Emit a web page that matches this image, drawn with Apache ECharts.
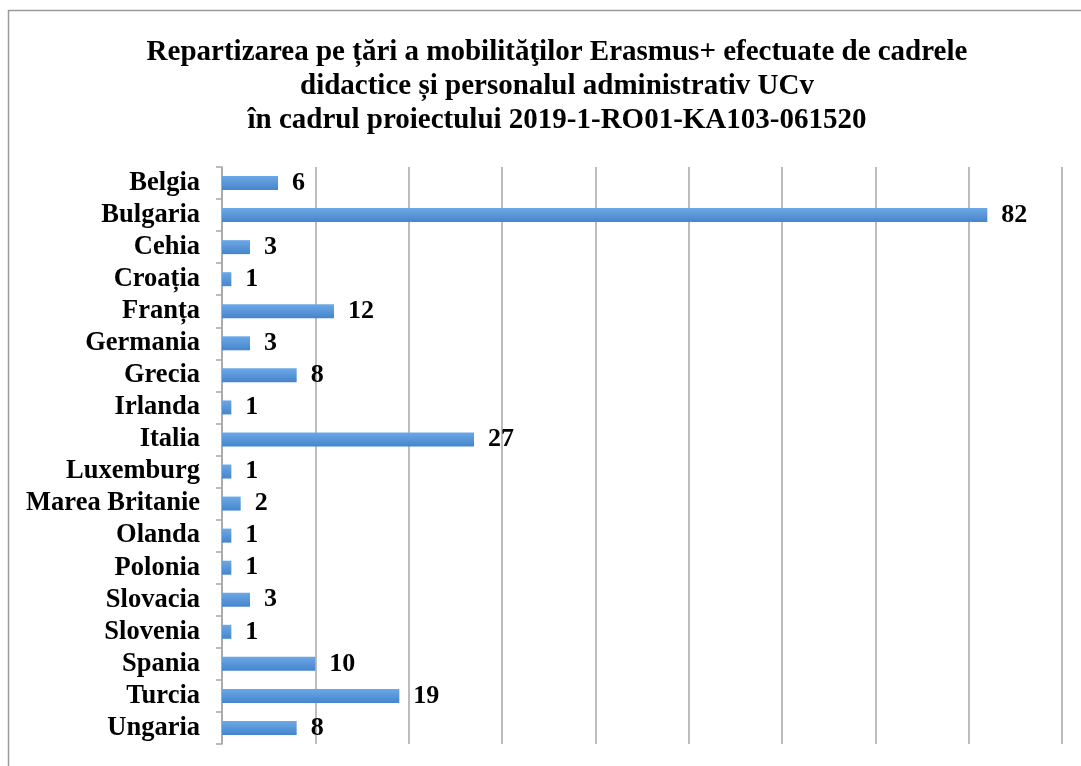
<!DOCTYPE html>
<html>
<head>
<meta charset="utf-8">
<title>Repartizarea pe țări a mobilităţilor Erasmus+</title>
<script src="https://cdn.jsdelivr.net/npm/echarts@6/dist/echarts.min.js"></script>
<style>
  html, body { margin: 0; padding: 0; background: #fff; }
  #chart { width: 1081px; height: 766px; }
</style>
</head>
<body>
<div id="chart"></div>
<script>
// date
const countries = ['Belgia', 'Bulgaria', 'Cehia', 'Croația', 'Franța', 'Germania', 'Grecia', 'Irlanda',
  'Italia', 'Luxemburg', 'Marea Britanie', 'Olanda', 'Polonia', 'Slovacia', 'Slovenia', 'Spania',
  'Turcia', 'Ungaria']
const mobilities = [6, 82, 3, 1, 12, 3, 8, 1, 27, 1, 2, 1, 1, 3, 1, 10, 19, 8]
const titleLines = [
  'Repartizarea pe țări a mobilităţilor Erasmus+ efectuate de cadrele',
  'didactice și personalul administrativ UCv',
  'în cadrul proiectului 2019-1-RO01-KA103-061520'
]

const serif = '"Liberation Serif", "Times New Roman", serif'
const gridColor = '#a6a6a6'

const chart = echarts.init(document.getElementById('chart'), null, { renderer: 'canvas' })

chart.setOption({
  backgroundColor: '#fff',
  animation: false,
  graphic: [{
    type: 'rect',
    shape: { x: 8.5, y: 10.5, width: 1200, height: 800 },
    style: { fill: 'none', stroke: '#9a9a9a', lineWidth: 1.5 },
    silent: true
  }],
  title: {
    text: titleLines.join('\n'),
    left: 552,
    textAlign: 'center',
    top: 31,
    textStyle: {
      fontFamily: serif,
      fontWeight: 'bold',
      fontSize: 29,
      lineHeight: 34,
      color: '#000'
    }
  },
  grid: {
    left: 222,
    right: 19,
    top: 167,
    bottom: 22,
    containLabel: false
  },
  xAxis: {
    type: 'value',
    min: 0,
    max: 90,
    interval: 10,
    axisLabel: { show: false },
    axisTick: { show: false },
    axisLine: { show: false },
    splitLine: { show: true, lineStyle: { color: gridColor, width: 1.5 } }
  },
  yAxis: {
    type: 'category',
    inverse: true,
    data: countries,
    axisLine: { show: true, lineStyle: { color: gridColor, width: 1.5 } },
    axisTick: { show: true, length: 6, lineStyle: { color: gridColor, width: 1.5 } },
    axisLabel: {
      interval: 0,
      margin: 22,
      fontFamily: serif,
      fontWeight: 'bold',
      fontSize: 26.5,
      color: '#000'
    }
  },
  series: [{
    type: 'bar',
    data: mobilities,
    barWidth: 14,
    z: 3,
    itemStyle: {
      color: new echarts.graphic.LinearGradient(0, 0, 0, 1, [
        { offset: 0, color: '#6ca8e6' },
        { offset: 1, color: '#4585cb' }
      ])
    },
    label: {
      show: true,
      position: 'right',
      distance: 14,
      fontFamily: serif,
      fontWeight: 'bold',
      fontSize: 26,
      color: '#000'
    }
  }]
})
</script>
</body>
</html>
